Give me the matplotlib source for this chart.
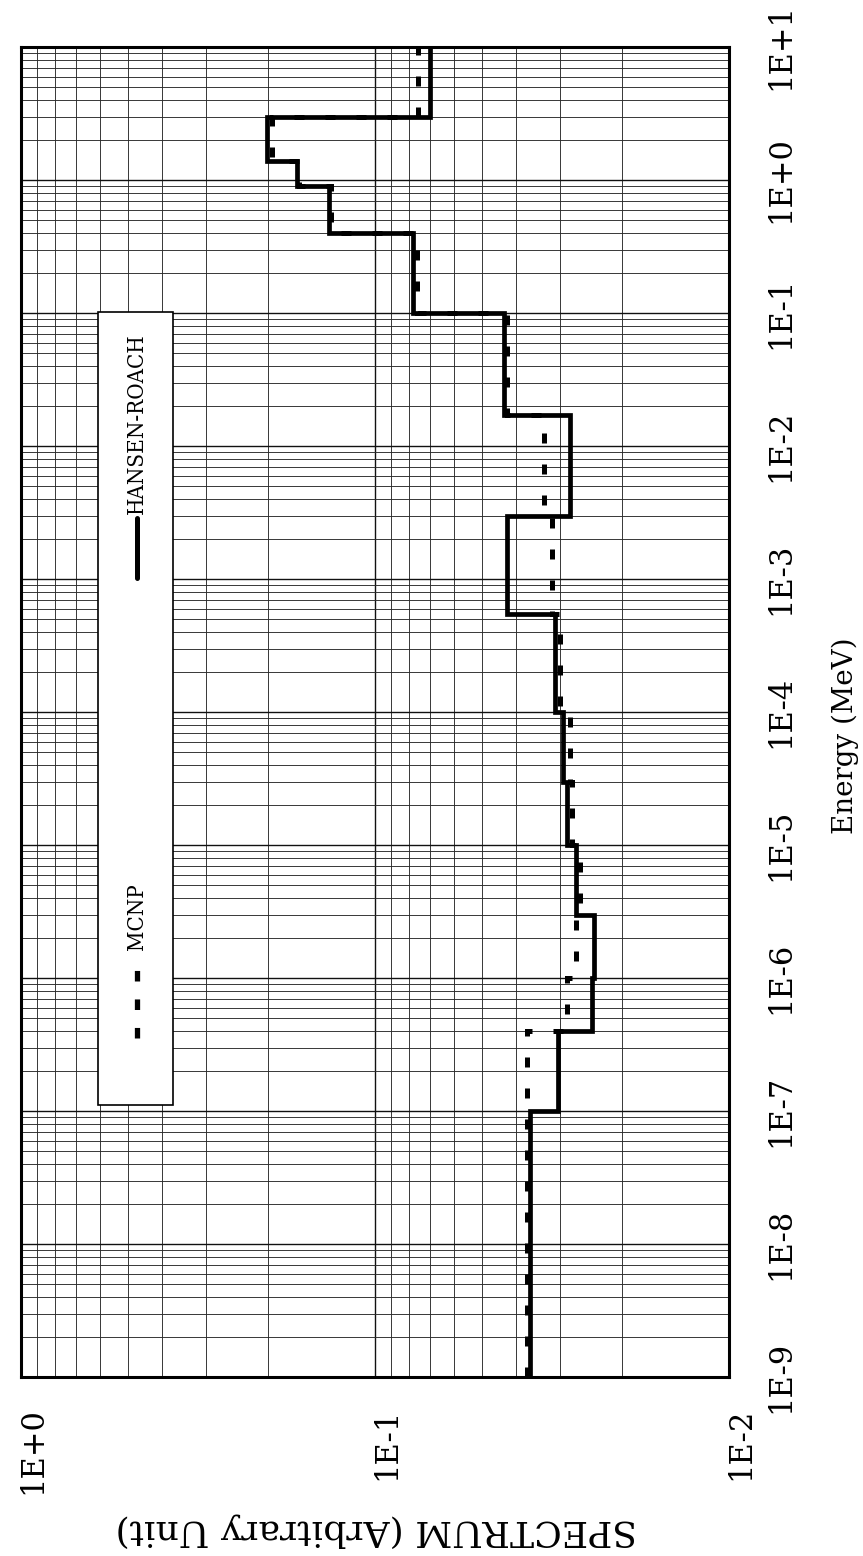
import numpy as np
import matplotlib
matplotlib.use("Agg")
import matplotlib.pyplot as plt
from matplotlib.ticker import LogLocator, FixedLocator, NullFormatter
from matplotlib.patches import Rectangle
from matplotlib.lines import Line2D
from matplotlib.transforms import ScaledTranslation

# ---------------- data ----------------
# Hansen-Roach 16-group energy boundaries (MeV), low -> high
energy_edges = [1e-9, 1e-7, 4e-7, 1e-6, 3e-6, 1e-5, 3e-5, 1e-4, 5.5e-4,
                3e-3, 1.7e-2, 0.1, 0.4, 0.9, 1.4, 3.0, 10.0]
# group spectra, low energy -> high energy (16 groups)
hansen_roach = [0.0364, 0.0305, 0.0244, 0.0241, 0.0271, 0.0287, 0.0295, 0.0311,
                0.0423, 0.0281, 0.0431, 0.0780, 0.1350, 0.1660, 0.2020, 0.0698]
mcnp = [0.0373, 0.0371, 0.0286, 0.0271, 0.0264, 0.0277, 0.0281, 0.0301,
        0.0317, 0.0334, 0.0423, 0.0760, 0.1330, 0.1640, 0.1960, 0.0755]

energy_ticks = [1e-9, 1e-8, 1e-7, 1e-6, 1e-5, 1e-4, 1e-3, 1e-2, 1e-1, 1e0, 1e1]
energy_labels = ["1E-9", "1E-8", "1E-7", "1E-6", "1E-5", "1E-4", "1E-3",
                 "1E-2", "1E-1", "1E+0", "1E+1"]
spec_ticks = [1.0, 0.1, 0.01]
spec_labels = ["1E+0", "1E-1", "1E-2"]

# ---------------- figure ----------------
W, H = 863, 1556
fig = plt.figure(figsize=(W / 100, H / 100), dpi=100)
L, R, T, B = 21, 729, 47, 1377
ax = fig.add_axes([L / W, (H - B) / H, (R - L) / W, (B - T) / H])

serif = "DejaVu Serif"

ax.set_xscale("log")
ax.set_yscale("log")
ax.set_xlim(1.0, 0.01)
ax.set_ylim(1e-9, 10)

# graph-paper grid
ax.xaxis.set_major_locator(FixedLocator(spec_ticks))
ax.xaxis.set_minor_locator(LogLocator(base=10, subs=np.arange(2, 10), numticks=50))
ax.yaxis.set_major_locator(FixedLocator(energy_ticks))
ax.yaxis.set_minor_locator(LogLocator(base=10, subs=np.arange(2, 10), numticks=50))
ax.xaxis.set_minor_formatter(NullFormatter())
ax.yaxis.set_minor_formatter(NullFormatter())
ax.grid(which="major", color="#111111", lw=1.0, zorder=0)
ax.grid(which="minor", color="#2a2a2a", lw=0.65, zorder=0)

# step curves
ax.stairs(hansen_roach, energy_edges, orientation="horizontal", baseline=None,
          color="black", lw=3.4, zorder=3)
ax.stairs(mcnp, energy_edges, orientation="horizontal", baseline=None,
          color="black", lw=3.6, linestyle=(0, (2.0, 4.2)), zorder=4)

# ticks & labels
ax.set_xticks(spec_ticks)
ax.set_xticklabels(spec_labels, rotation=90, fontsize=22, family=serif)
ax.set_yticks(energy_ticks)
ax.set_yticklabels(energy_labels, rotation=90, fontsize=22, family=serif,
                   va="center")
ax.yaxis.tick_right()
ax.tick_params(which="both", length=0)
ax.tick_params(axis="x", pad=22)
ax.tick_params(axis="y", pad=26)
shift = ScaledTranslation(0.12, 0, fig.dpi_scale_trans)
for lab in ax.get_xticklabels():
    lab.set_transform(lab.get_transform() + shift)

ax.set_xlabel("SPECTRUM (Arbitrary Unit)", rotation=180, fontsize=26,
              family=serif, ha="center", va="center")
ax.xaxis.set_label_coords((376 - L) / (R - L), (B - 1530) / (B - T))
ax.yaxis.set_label_position("right")
ax.set_ylabel("Energy (MeV)", rotation=90, fontsize=20, family=serif,
              ha="center", va="center", rotation_mode="default")
ax.yaxis.set_label_coords((845 - L) / (R - L), (B - 736) / (B - T))

for s in ax.spines.values():
    s.set_linewidth(2.2)
    s.set_color("black")

# legend (drawn rotated like the rest of the figure)
def fx(px):
    return (px - L) / (R - L)

def fy(py):
    return (B - py) / (B - T)

ax.add_patch(Rectangle((fx(98), fy(1105)), fx(173) - fx(98), fy(312) - fy(1105),
                       transform=ax.transAxes, facecolor="white",
                       edgecolor="black", lw=1.2, zorder=6))
ax.add_line(Line2D([fx(137), fx(137)], [fy(578), fy(518)], transform=ax.transAxes,
                   color="black", lw=3.6, solid_capstyle="round", zorder=7))
ax.text(fx(137), fy(514), "HANSEN-ROACH", transform=ax.transAxes, rotation=90,
        rotation_mode="anchor", ha="left", va="center", fontsize=16,
        family=serif, fontstretch="condensed", zorder=7)
ax.add_line(Line2D([fx(137), fx(137)], [fy(1038), fy(958)], transform=ax.transAxes,
                   color="black", lw=3.8, linestyle=(0, (2.0, 3.4)), zorder=7))
ax.text(fx(137), fy(950), "MCNP", transform=ax.transAxes, rotation=90,
        rotation_mode="anchor", ha="left", va="center", fontsize=16,
        family=serif, fontstretch="condensed", zorder=7)

fig.savefig("out.png", dpi=100)
